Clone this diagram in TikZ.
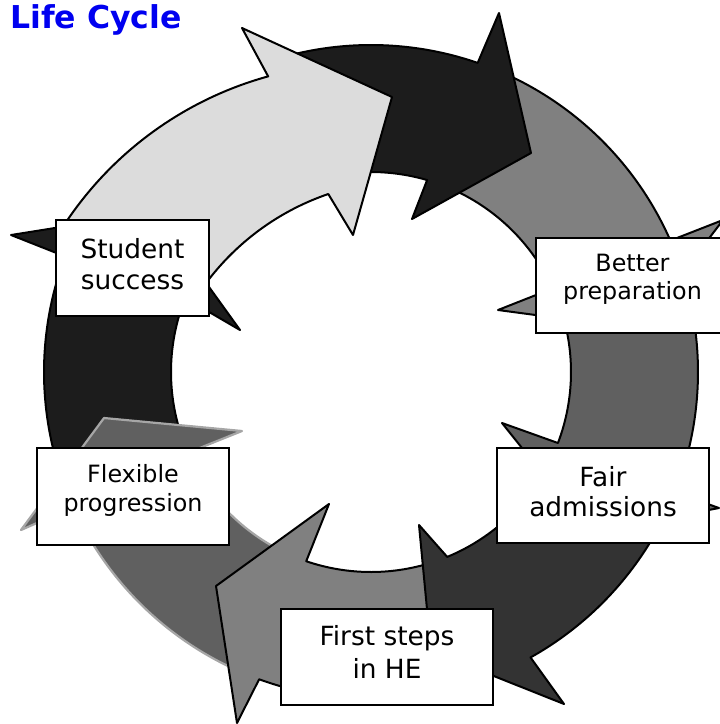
\documentclass[tikz,border=0pt]{standalone}
\usepackage{fontspec}
\setmainfont{DejaVu Sans}
\usetikzlibrary{calc}
\definecolor{cA}{RGB}{220,220,220}
\definecolor{cB}{RGB}{28,28,28}
\definecolor{cC}{RGB}{128,128,128}
\definecolor{cD}{RGB}{96,96,96}
\definecolor{cE}{RGB}{51,51,51}
\definecolor{cG}{RGB}{166,166,166}
\definecolor{ttl}{RGB}{0,0,240}
\begin{document}
\begin{tikzpicture}[x=1pt,y=1pt,
  seg/.style={draw=black, line width=2pt, line join=round},
  segG/.style={draw=cG, line width=2.2pt, line join=round},
  box/.style={draw=black, fill=white, line width=1.6pt, inner sep=0pt},
  big/.style={font=\fontsize{26.4}{31.7}\selectfont, align=center, inner sep=0pt},
  small/.style={font=\fontsize{23.8}{28.3}\selectfont, align=center, inner sep=0pt}]
\useasboundingbox (0,0) rectangle (720,-724);
\begin{scope}[shift={(371,-372)}]
  % H : left, up to Student success
  \path[seg, fill=cB] (200:327) arc[start angle=200, end angle=159.3, radius=327]
    -- (-360,137) -- (-216,160) -- (-131,42) -- (158.3:200)
    arc[start angle=158.3, end angle=200, radius=200] -- cycle;
  % G : bottom left, up to Flexible progression
  \path[segG, fill=cD] (-113:327) arc[start angle=-113, end angle=-155.6, radius=327]
    -- (-350,-158) -- (-267,-46) -- (-129,-59) -- (-156.2:200)
    arc[start angle=-156.2, end angle=-115, radius=200] -- cycle;
  % F : bottom, First steps in HE
  \path[seg, fill=cC] (-71:327) arc[start angle=-71, end angle=-110, radius=327]
    -- (-134,-351) -- (-155,-214) -- (-42,-132) -- (-108.9:200)
    arc[start angle=-108.9, end angle=-71, radius=200] -- cycle;
  % E : bottom right
  \path[seg, fill=cE] (-25:327) arc[start angle=-25, end angle=-60.8, radius=327]
    -- (193,-332) -- (60,-279) -- (48,-153) -- (-67.6:200)
    arc[start angle=-67.6, end angle=-25, radius=200] -- cycle;
  % D : right
  \path[seg, fill=cD] (20:327) arc[start angle=20, end angle=-21.6, radius=327]
    -- (348,-136) -- (219,-161) -- (131,-51) -- (-20.8:200)
    arc[start angle=-20.8, end angle=20, radius=200] -- cycle;
  % C : top right
  \path[seg, fill=cC] (68:327) arc[start angle=68, end angle=23.7, radius=327]
    -- (352,152) -- (269,43) -- (127,62) -- (24.7:200)
    arc[start angle=24.7, end angle=67, radius=200] -- cycle;
  % B : top
  \path[seg, fill=cB] (106:327) arc[start angle=106, end angle=70.96, radius=327]
    -- (128,359) -- (160,219) -- (41,153) -- (73.7:200)
    arc[start angle=73.7, end angle=95, radius=200] -- cycle;
\end{scope}
% A : light arrow from Student success to the top
\path[seg, fill=cA] (63.6,-225.8) arc[start angle=146.9, end angle=105.4, radius=357.5]
  -- (242,-28) -- (392,-97) -- (353,-235) -- (328.3,-194.0)
  arc[start angle=108.87, end angle=143.6, radius=255.7] -- cycle;
% boxes
\node[box, minimum width=153pt, minimum height=96pt] (ssB) at (132.5,-268) {};
\node[box, minimum width=193pt, minimum height=95pt] (bpB) at (632.5,-285.5) {};
\node[box, minimum width=212pt, minimum height=95pt] (faB) at (603,-495.5) {};
\node[box, minimum width=212pt, minimum height=96pt] (fsB) at (387,-657) {};
\node[box, minimum width=192pt, minimum height=97pt] (fpB) at (133,-496.5) {};
% labels
\node[big] (ssL) at (132.5,-264.3) {Student\\success};
\node[small] (bpL) at (632.5,-279.6) {Better\\preparation};
\node[big, font=\fontsize{26.4}{30}\selectfont] (faL) at (603,-491.8) {Fair\\admissions};
\node[big, font=\fontsize{26.4}{33.3}\selectfont] (fsL) at (387,-652.3) {First steps\\in HE};
\node[small] (fpL) at (133,-490.3) {Flexible\\progression};
% title
\node[anchor=base west, text=ttl, font=\bfseries\fontsize{31.5}{36}\selectfont, inner sep=0pt] (title) at (10,-28.3) {Life Cycle};
\end{tikzpicture}
\end{document}
